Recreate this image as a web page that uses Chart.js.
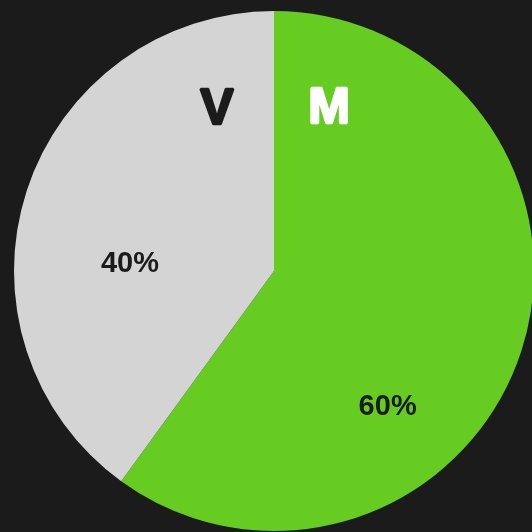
<!DOCTYPE html>
<html><head><meta charset="utf-8">
<script src="https://cdn.jsdelivr.net/npm/chart.js@4"></script>
<style>
html,body{margin:0;padding:0;background:#1b1b1b;overflow:hidden;width:532px;height:532px;}
#wrap{width:536px;height:532px;position:relative;}
</style></head>
<body><div id="wrap"><canvas id="c"></canvas></div>
<script>
const categories = ['M', 'V'];
const values = [60, 40];
const sliceColors = ['#66cc22', '#d4d4d4'];
const percentLabels = ['60%', '40%'];
const headerLabels = ['M', 'V'];
const headerColors = ['#ffffff', '#1b1b1b'];
// label placement (angle in degrees clockwise from top, distance fraction of radius)
const pctAngles = [140, 273];
const pctDist = [0.68, 0.555];
const headAngles = [18.6, -19.3];
const headDist = [0.665, 0.665];

const labelPlugin = {
  id: 'labels',
  afterDatasetsDraw(chart) {
    const ctx = chart.ctx;
    const meta = chart.getDatasetMeta(0);
    const arc = meta.data[0];
    const cx = arc.x, cy = arc.y, r = arc.outerRadius;
    ctx.save();
    ctx.textAlign = 'center';
    ctx.textBaseline = 'middle';
    percentLabels.forEach((t, i) => {
      const a = pctAngles[i] * Math.PI / 180;
      ctx.font = 'bold 29px "Liberation Sans", Arial, sans-serif';
      ctx.fillStyle = '#1b1b1b';
      ctx.fillText(t, cx + r * pctDist[i] * Math.sin(a), cy - r * pctDist[i] * Math.cos(a) + 1);
    });
    headerLabels.forEach((t, i) => {
      const a = headAngles[i] * Math.PI / 180;
      const x = cx + r * headDist[i] * Math.sin(a);
      const y = cy - r * headDist[i] * Math.cos(a) + 2;
      ctx.font = 'bold 50px "Liberation Sans", Arial, sans-serif';
      ctx.fillStyle = headerColors[i];
      ctx.strokeStyle = headerColors[i];
      ctx.lineWidth = 2.5;
      ctx.lineJoin = 'bevel';
      ctx.fillText(t, x, y);
      ctx.strokeText(t, x, y);
    });
    ctx.restore();
  }
};

new Chart(document.getElementById('c'), {
  type: 'pie',
  data: {
    labels: categories,
    datasets: [{ data: values, backgroundColor: sliceColors, borderWidth: 0 }]
  },
  options: {
    responsive: true,
    maintainAspectRatio: false,
    animation: false,
    layout: { padding: { left: 14, right: 2, top: 11, bottom: 1 } },
    plugins: { legend: { display: false }, tooltip: { enabled: false } }
  },
  plugins: [labelPlugin]
});
</script>
</body></html>
